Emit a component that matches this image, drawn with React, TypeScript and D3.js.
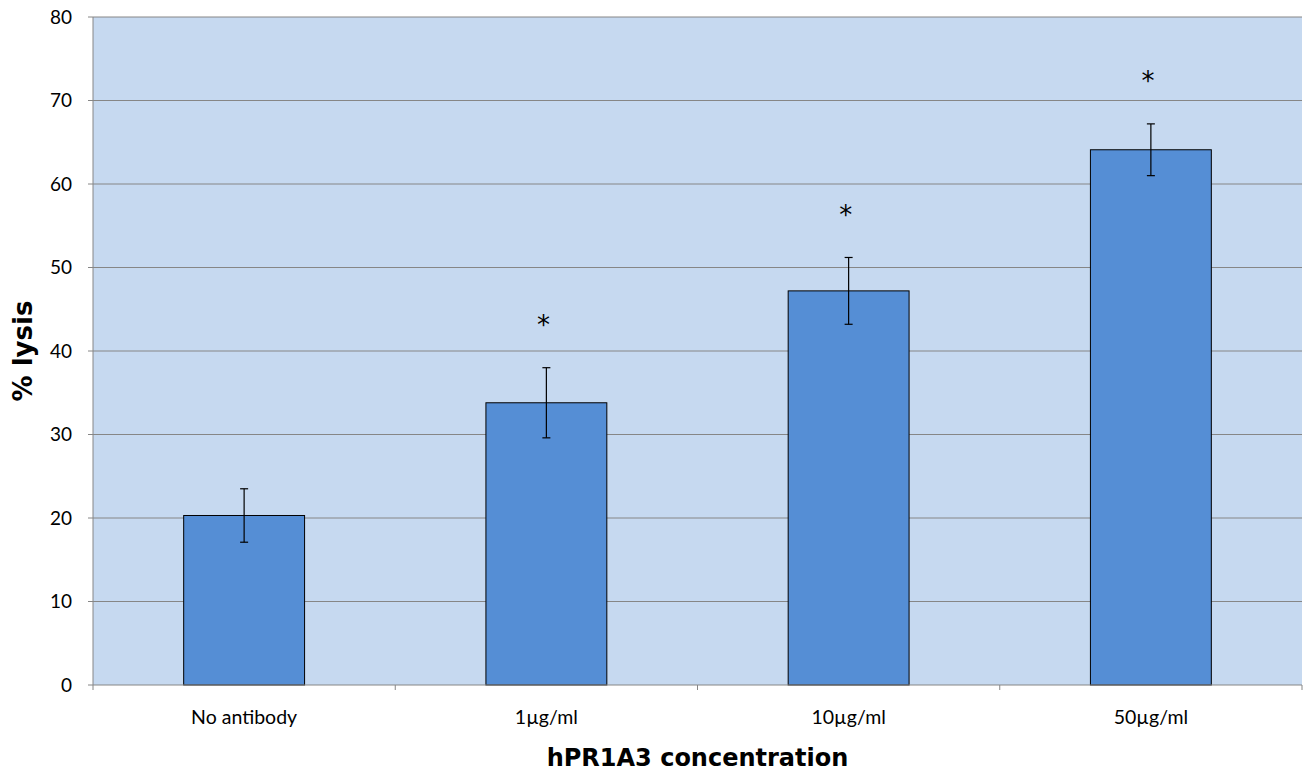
import React from "react";
import * as d3 from "d3";

const categories = ["No antibody", "1µg/ml", "10µg/ml", "50µg/ml"];
const values = [20.3, 33.8, 47.2, 64.1];
const errors = [3.2, 4.2, 4.0, 3.1];
const significant = [false, true, true, true];
const yTicks = [0, 10, 20, 30, 40, 50, 60, 70, 80];

const W = 1308;
const H = 773;
const margin = { left: 93, right: 6, top: 17, bottom: 88 };

export default function App() {
  const x = d3
    .scaleBand<string>()
    .domain(categories)
    .range([margin.left, W - margin.right])
    .paddingInner(0.6)
    .paddingOuter(0.3);
  const band = d3.scaleBand<string>().domain(categories).range([margin.left, W - margin.right]);
  const y = d3.scaleLinear().domain([0, 80]).range([H - margin.bottom, margin.top]);
  const x0 = margin.left;
  const x1 = W - margin.right;
  const bw = x.bandwidth();
  const tickFont = "Lato, 'Open Sans', sans-serif";
  const titleFont = "'DejaVu Sans', Verdana, sans-serif";
  return (
    <svg width={W} height={H} style={{ position: "absolute", left: 0, top: 0, background: "#fff" }}>
      <rect x={x0} y={y(80)} width={x1 - x0} height={y(0) - y(80)} fill="#c6d9f0" />
      {yTicks.map((t) => (
        <g key={t}>
          {t > 0 && <line x1={x0} x2={x1} y1={y(t)} y2={y(t)} stroke="#868686" strokeWidth={1} />}
          <line x1={x0 - 5} x2={x0} y1={y(t)} y2={y(t)} stroke="#868686" />
          <text x={x0 - 21} y={y(t)} dy="0.36em" textAnchor="end" fontSize={19} fontFamily={tickFont} fill="#000">
            {t}
          </text>
        </g>
      ))}
      <line x1={x0} x2={x0} y1={y(80)} y2={y(0)} stroke="#868686" />
      {categories.map((c, i) => {
        const bx = x(c)!;
        const cx = bx + bw / 2;
        const v = values[i];
        const e = errors[i];
        return (
          <g key={c}>
            <rect x={bx} y={y(v)} width={bw} height={y(0) - y(v)} fill="#558ed5" stroke="#000" strokeWidth={1} />
            <line x1={cx} x2={cx} y1={y(v + e)} y2={y(v - e)} stroke="#000" strokeWidth={1.2} />
            <line x1={cx - 4} x2={cx + 4} y1={y(v + e)} y2={y(v + e)} stroke="#000" strokeWidth={1.2} />
            <line x1={cx - 4} x2={cx + 4} y1={y(v - e)} y2={y(v - e)} stroke="#000" strokeWidth={1.2} />
            {significant[i] && (
              <text x={cx - 3} y={y(v + e + 6)} dy="0.62em" textAnchor="middle" fontSize={26} fontFamily={titleFont} fill="#000">
                *
              </text>
            )}
            <text x={band(c)! + band.bandwidth() / 2} y={y(0) + 39} textAnchor="middle" fontSize={19.5} fontFamily={tickFont} fill="#000">
              {c}
            </text>
          </g>
        );
      })}
      <line x1={x0} x2={x1} y1={y(0)} y2={y(0)} stroke="#868686" />
      {[...categories.map((c) => band(c)!), x1].map((bx, i) => (
        <line key={i} x1={bx} x2={bx} y1={y(0)} y2={y(0) + 5} stroke="#868686" />
      ))}
      <text
        transform={`translate(32, ${(y(0) + y(80)) / 2}) rotate(-90)`}
        textAnchor="middle"
        fontSize={26}
        fontWeight="bold"
        fontFamily={titleFont}
        fill="#000"
      >
        % lysis
      </text>
      <text x={(x0 + x1) / 2} y={766} textAnchor="middle" fontSize={24} fontWeight="bold" fontFamily={titleFont} fill="#000">
        hPR1A3 concentration
      </text>
    </svg>
  );
}
